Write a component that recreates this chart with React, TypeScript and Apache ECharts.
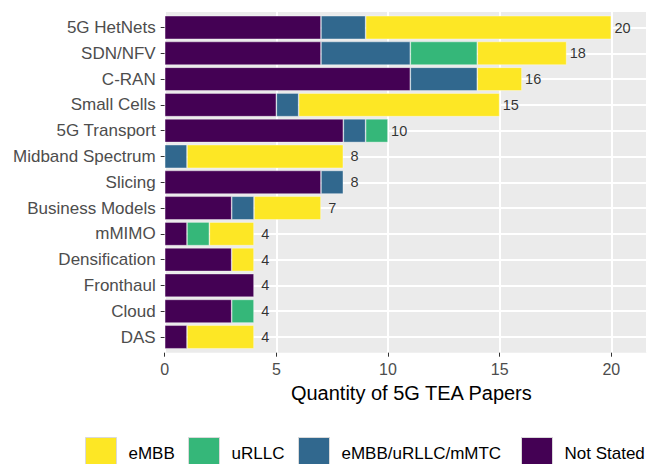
import React, { useEffect, useRef } from "react";
import * as echarts from "echarts";

const categories = [
  "5G HetNets",
  "SDN/NFV",
  "C-RAN",
  "Small Cells",
  "5G Transport",
  "Midband Spectrum",
  "Slicing",
  "Business Models",
  "mMIMO",
  "Densification",
  "Fronthaul",
  "Cloud",
  "DAS",
];
const notStated = [7, 7, 11, 5, 8, 0, 7, 3, 1, 3, 4, 3, 1];
const mixed = [2, 4, 3, 1, 1, 1, 1, 1, 0, 0, 0, 0, 0];
const urllc = [0, 3, 0, 0, 1, 0, 0, 0, 1, 0, 0, 1, 0];
const embb = [11, 4, 2, 9, 0, 7, 0, 3, 2, 1, 0, 0, 3];
const xTicks = [0, 5, 10, 15, 20];

const seriesNames = ["Not Stated", "eMBB/uRLLC/mMTC", "uRLLC", "eMBB"];
const seriesColors = ["#440154", "#31688E", "#35B779", "#FDE725"];
const seriesValues = [notStated, mixed, urllc, embb];

const FONT = "'Liberation Sans', Arial, Helvetica, sans-serif";
const X_MAX = 21.6;

export default function App() {
  const ref = useRef<HTMLDivElement>(null);
  useEffect(() => {
    if (!ref.current) return;
    const chart = echarts.init(ref.current, null, { renderer: "svg" });
    const totals = categories.map((_, i) =>
      seriesValues.reduce((s, arr) => s + arr[i], 0)
    );
    const barSeries = seriesNames.map((name, k) => ({
      name,
      type: "bar",
      stack: "total",
      xAxisIndex: 2,
      yAxisIndex: 1,
      barWidth: 23.6,
      itemStyle: {
        color: seriesColors[k],
        borderColor: "rgba(255,255,255,0.55)",
        borderWidth: 0.7,
      },
      data: seriesValues[k].map((v) => (v === 0 ? "-" : v)),
    }));
    const legendDefs = [
      { name: "eMBB", left: 85 },
      { name: "uRLLC", left: 188 },
      { name: "eMBB/uRLLC/mMTC", left: 298 },
      { name: "Not Stated", left: 521 },
    ];
    chart.setOption({
      animation: false,
      backgroundColor: "#ffffff",
      textStyle: { fontFamily: FONT },
      grid: [
        {
          left: 164.7,
          right: 0,
          top: 12,
          bottom: 111.3,
          show: true,
          backgroundColor: "#EBEBEB",
          borderWidth: 0,
        },
        {
          left: 164.7,
          right: 0,
          top: 27.5,
          bottom: 127,
          show: false,
        },
      ],
      legend: legendDefs.map((l) => ({
        data: [l.name],
        left: l.left,
        top: 437,
        padding: 0,
        orient: "horizontal",
        itemWidth: 31,
        itemHeight: 31,
        icon: "rect",
        itemStyle: { borderColor: "#d9d9d9", borderWidth: 1 },
        textStyle: {
          fontFamily: FONT,
          fontSize: 17,
          color: "#000000",
          padding: [6, 0, 0, 7],
        },
      })),
      xAxis: [
        {
          type: "value",
          gridIndex: 0,
          min: 0,
          max: X_MAX,
          interval: 5,
          name: "Quantity of 5G TEA Papers",
          nameLocation: "middle",
          nameGap: 11,
          nameTextStyle: {
            fontFamily: FONT,
            fontSize: 20,
            color: "#000000",
            padding: [0, 0, 0, 11],
          },
          axisLine: { show: false },
          axisTick: {
            show: true,
            length: 4,
            lineStyle: { color: "#333333", width: 1 },
          },
          axisLabel: {
            fontFamily: FONT,
            fontSize: 16,
            color: "#4D4D4D",
            margin: 9,
            showMaxLabel: false,
            formatter: (v: number) =>
              xTicks.indexOf(v) >= 0 ? String(v) : "",
          },
          splitLine: {
            show: true,
            lineStyle: { color: "#FFFFFF", width: 2 },
          },
        },
        {
          type: "value",
          gridIndex: 0,
          min: 0,
          max: X_MAX,
          interval: 2.5,
          axisLine: { show: false },
          axisTick: { show: false },
          axisLabel: { show: false },
          splitLine: {
            show: true,
            lineStyle: { color: "#FFFFFF", width: 1 },
          },
          z: -1,
        },
        {
          type: "value",
          gridIndex: 1,
          min: 0,
          max: X_MAX,
          show: false,
        },
      ],
      yAxis: [
        {
          type: "value",
          gridIndex: 0,
          min: 0,
          max: 1,
          show: false,
        },
        {
          type: "category",
          gridIndex: 1,
          data: categories,
          inverse: true,
          boundaryGap: false,
          axisLine: { show: false },
          axisTick: {
            show: true,
            length: 4,
            lineStyle: { color: "#333333", width: 1 },
          },
          axisLabel: {
            fontFamily: FONT,
            fontSize: 17,
            color: "#4D4D4D",
            margin: 9,
            interval: 0,
          },
          splitLine: {
            show: true,
            interval: 0,
            lineStyle: { color: "#FFFFFF", width: 2 },
          },
        },
      ],
      series: [
        ...barSeries,
        {
          name: "totals",
          type: "scatter",
          xAxisIndex: 2,
          yAxisIndex: 1,
          symbol: "circle",
          symbolSize: 1,
          itemStyle: { color: "rgba(0,0,0,0)" },
          silent: true,
          label: {
            show: true,
            position: "inside",
            fontFamily: FONT,
            fontSize: 14.5,
            color: "#000000",
            formatter: (p: any) => String(p.value[2]),
          },
          data: categories.map((c, i) => [totals[i] + 0.5, c, totals[i]]),
          z: 5,
        },
      ],
    });
    return () => chart.dispose();
  }, []);
  return (
    <div
      ref={ref}
      style={{
        position: "fixed",
        left: 0,
        top: 0,
        width: 647,
        height: 464,
      }}
    />
  );
}
